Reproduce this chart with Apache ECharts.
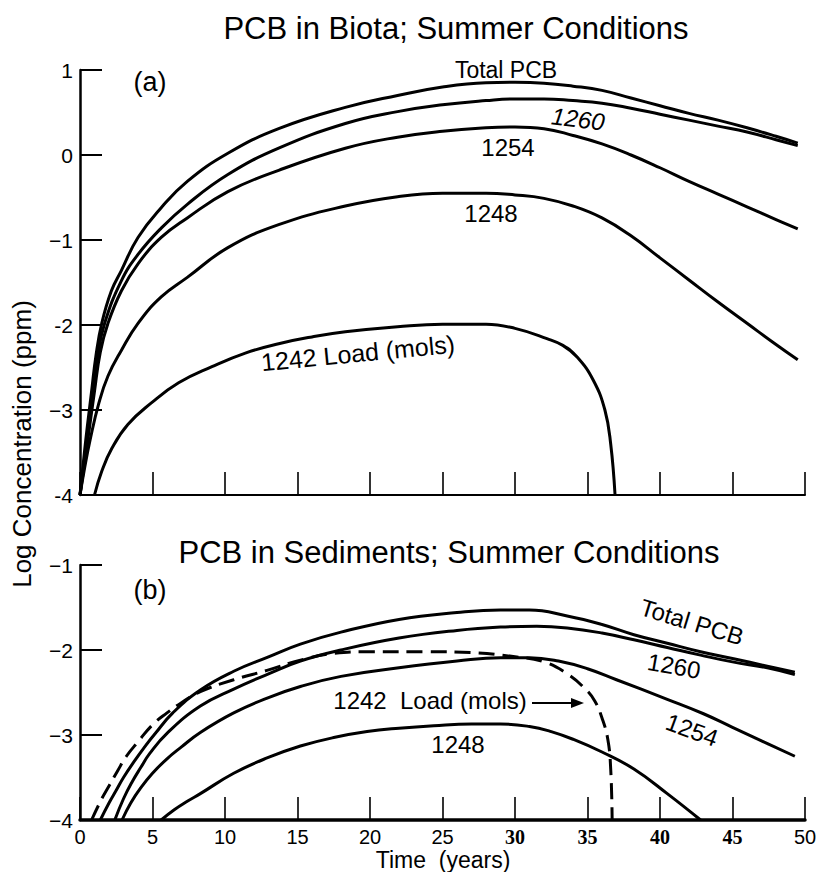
<!DOCTYPE html>
<html><head><meta charset="utf-8">
<script src="https://cdn.jsdelivr.net/npm/echarts@6/dist/echarts.min.js"></script>
<style>html,body{margin:0;padding:0;background:#fff}#c{width:817px;height:872px}</style>
</head><body><div id="c"></div>
<script>
// ---- tick labels ----
const xTickValues = [0, 5, 10, 15, 20, 25, 30, 35, 40, 45, 50];
const boldSerifXLabels = ['30', '35', '40', '45'];
const biotaYTicks = [-4, -3, -2, -1, 0, 1];
const biotaYTickLabels = ['-4', '\u22123', '-2', '\u22121', '0', '1'];
const sedYTicks = [-4, -3, -2, -1];
const sedYTickLabels = ['\u22124', '\u22123', '\u22122', '\u22121'];

// ---- (a) PCB in biota: [year, log concentration] ----
const biotaTotal = [[0,-4],[0.4,-3.35],[0.8,-2.78],[1.1,-2.36],[1.5,-1.98],[2.16,-1.6],[2.85,-1.36],[4,-0.97],[5.6,-0.62],[7.4,-0.31],[10.2,0.02],[13.7,0.31],[18.3,0.56],[21.9,0.7],[25,0.8],[28,0.85],[30,0.855],[32,0.845],[34,0.81],[36,0.76],[38,0.67],[40,0.58],[42,0.49],[44,0.41],[46,0.32],[48,0.22],[49.5,0.14]];
const biota1260 = [[0,-4],[0.4,-3.45],[0.8,-2.88],[1.2,-2.38],[1.7,-1.98],[2.85,-1.48],[4,-1.17],[5.6,-0.86],[7.4,-0.58],[10.2,-0.23],[13.7,0.08],[18.3,0.37],[21.9,0.51],[25,0.59],[28,0.64],[30,0.66],[32,0.66],[34,0.64],[36,0.61],[38,0.55],[40,0.48],[42,0.41],[44,0.34],[46,0.27],[48,0.18],[49.5,0.11]];
const biota1254 = [[0,-4],[0.5,-3.4],[1,-2.78],[1.4,-2.32],[1.93,-1.98],[2.85,-1.6],[4,-1.28],[5.6,-0.97],[7.4,-0.74],[10.2,-0.43],[13.7,-0.18],[18.3,0.08],[21.9,0.21],[25,0.28],[28,0.32],[30,0.33],[32,0.31],[34,0.23],[36,0.13],[38,0.0],[40,-0.15],[42,-0.31],[44,-0.46],[46,-0.61],[48,-0.76],[49.5,-0.87]];
const biota1248 = [[0,-4],[0.3,-3.7],[0.7,-3.35],[1.3,-2.92],[1.93,-2.6],[2.85,-2.3],[4,-1.98],[5.6,-1.67],[7.4,-1.44],[10.2,-1.09],[13.7,-0.82],[18.3,-0.6],[21.9,-0.49],[25,-0.45],[28,-0.45],[30,-0.47],[32,-0.51],[34,-0.6],[36,-0.74],[38,-0.95],[40,-1.21],[42,-1.47],[44,-1.73],[46,-1.98],[48,-2.23],[49.5,-2.41]];
const biotaLoad1242 = [[1,-4],[1.5,-3.72],[2.2,-3.45],[3.3,-3.17],[4.9,-2.92],[6.8,-2.68],[9.1,-2.49],[11.4,-2.33],[13.7,-2.22],[16,-2.14],[18.3,-2.08],[21.9,-2.02],[25,-1.99],[28,-1.99],[30,-2.04],[32.2,-2.16],[33.3,-2.24],[34.3,-2.38],[35.4,-2.65],[36.2,-3.0],[36.6,-3.4],[36.9,-4]];

// ---- (b) PCB in sediments ----
const sedTotal = [[1.4,-4],[2,-3.8],[2.5,-3.65],[3,-3.5],[3.7,-3.32],[4.5,-3.13],[5.2,-2.98],[6.4,-2.74],[8.3,-2.47],[10.6,-2.25],[13,-2.08],[15.2,-1.93],[18,-1.79],[22,-1.64],[26,-1.56],[29,-1.53],[31,-1.53],[33.6,-1.6],[36,-1.7],[38.2,-1.82],[40.5,-1.92],[42.8,-2.02],[45,-2.1],[47.4,-2.19],[49.3,-2.26]];
const sed1260 = [[2.4,-4],[3,-3.75],[3.6,-3.55],[4.2,-3.38],[4.8,-3.22],[6,-2.98],[8.3,-2.66],[10.6,-2.46],[13,-2.28],[15.2,-2.13],[18,-2.0],[22,-1.86],[26,-1.77],[29,-1.73],[31.5,-1.72],[33.6,-1.74],[36,-1.8],[38.2,-1.88],[40.5,-1.97],[42.8,-2.06],[45,-2.14],[47.4,-2.21],[49.3,-2.29]];
const sed1254 = [[2.9,-4],[3.5,-3.8],[4.2,-3.62],[5,-3.45],[6,-3.28],[7,-3.14],[8.3,-2.97],[10.6,-2.74],[13,-2.56],[15.2,-2.43],[18,-2.31],[22,-2.21],[26,-2.13],[29,-2.09],[31,-2.09],[33,-2.13],[35,-2.22],[37,-2.35],[40.5,-2.58],[43,-2.75],[45,-2.91],[47,-3.07],[49.3,-3.25]];
const sed1248 = [[5.6,-4],[6.5,-3.88],[7.4,-3.78],[8.3,-3.69],[10.6,-3.45],[12.9,-3.27],[15.2,-3.13],[17.5,-3.03],[19.8,-2.96],[22,-2.92],[24.4,-2.89],[27,-2.87],[29,-2.87],[31,-2.9],[32.5,-2.96],[34,-3.05],[36,-3.2],[38.2,-3.4],[40.5,-3.69],[42.8,-4]];
const sedLoad1242 = [[0.8,-4],[1.5,-3.75],[2,-3.6],[2.6,-3.42],[3.2,-3.25],[4,-3.08],[5,-2.88],[6,-2.74],[7,-2.62],[8.3,-2.49],[10.6,-2.35],[12.9,-2.24],[15.2,-2.12],[17.5,-2.04],[20,-2.02],[24,-2.02],[27,-2.03],[30,-2.08],[32,-2.14],[33.6,-2.28],[34.8,-2.45],[35.5,-2.6],[36,-2.8],[36.4,-3.05],[36.6,-3.4],[36.7,-4]];

const FONT = 'Liberation Sans, Arial, sans-serif';
const chart = echarts.init(document.getElementById('c'), null, {renderer: 'svg'});

function line(data, xi, dashed) {
  return {
    type: 'line', xAxisIndex: xi, yAxisIndex: xi, data: data,
    showSymbol: false, symbol: 'none', smooth: 0.45,
    clip: true, silent: true,
    lineStyle: {color: '#000', width: 3, type: dashed ? [16, 8] : 'solid', cap: 'butt', join: 'round'}
  };
}
function xAxis(gi, showLabels, axisWidth) {
  return {
    type: 'value', gridIndex: gi, min: 0, max: 50, interval: 5,
    axisLine: {show: true, onZero: false, lineStyle: {color: '#000', width: axisWidth}},
    axisTick: {show: true, inside: true, length: 23, lineStyle: {color: '#000', width: 1.6}},
    splitLine: {show: false},
    axisLabel: {
      show: showLabels, margin: 8, showMinLabel: true, showMaxLabel: true, hideOverlap: false,
      formatter: v => boldSerifXLabels.includes(String(v)) ? '{b|' + v + '}' : '{n|' + v + '}',
      rich: {
        n: {fontFamily: FONT, fontSize: 20, lineHeight: 18, color: '#000'},
        b: {fontFamily: 'Liberation Serif, serif', fontWeight: 'bold', fontSize: 20, lineHeight: 18, color: '#000'}
      }
    }
  };
}
function yAxis(gi, min, max, ticks, labels) {
  return {
    type: 'value', gridIndex: gi, min: min, max: max, interval: 1,
    axisLine: {show: true, onZero: false, lineStyle: {color: '#000', width: 2.5}},
    axisTick: {show: true, inside: true, length: 22, lineStyle: {color: '#000', width: 2}},
    splitLine: {show: false},
    axisLabel: {
      margin: 7, fontFamily: FONT, fontSize: 21, color: '#000', showMinLabel: true, showMaxLabel: true,
      formatter: v => { const i = ticks.indexOf(Math.round(v)); return i >= 0 ? labels[i] : ''; }
    }
  };
}
function txt(s, x, y, size, rot, italic) {
  return {
    type: 'text', x: x, y: y, rotation: rot || 0, silent: true,
    style: {text: s, x: 0, y: 0, fontFamily: FONT, fontSize: size, fill: '#000',
            fontStyle: italic ? 'italic' : 'normal',
            align: 'center', verticalAlign: 'middle', textAlign: 'center', textVerticalAlign: 'middle'}
  };
}
const deg = Math.PI / 180;

chart.setOption({
  backgroundColor: '#fff',
  animation: false,
  grid: [
    {left: 80, top: 70, width: 725, height: 425, outerBoundsMode: 'none', containLabel: false},
    {left: 80, top: 565, width: 725, height: 255, outerBoundsMode: 'none', containLabel: false}
  ],
  xAxis: [xAxis(0, false, 2), xAxis(1, true, 3.5)],
  yAxis: [yAxis(0, -4, 1, biotaYTicks, biotaYTickLabels), yAxis(1, -4, -1, sedYTicks, sedYTickLabels)],
  series: [
    line(biotaTotal, 0), line(biota1260, 0), line(biota1254, 0), line(biota1248, 0), line(biotaLoad1242, 0),
    line(sedTotal, 1), line(sed1260, 1), line(sed1254, 1), line(sed1248, 1), line(sedLoad1242, 1, true)
  ],
  graphic: [
    txt('PCB in Biota; Summer Conditions', 456, 28, 31),
    txt('PCB in Sediments; Summer Conditions', 449, 552, 31),
    txt('(a)', 150, 82, 27),
    txt('(b)', 150, 590, 27),
    txt('Log Concentration (ppm)', 22, 444, 26, 90 * deg),
    txt('Time  (years)', 443, 860, 23),
    txt('Total PCB', 506, 70, 23),
    txt('1260', 578, 119, 24, -7 * deg, true),
    txt('1254', 508, 147, 24),
    txt('1248', 491, 213, 24),
    txt('1242 Load (mols)', 358, 353, 25, 5.5 * deg),
    txt('Total PCB', 692, 622, 24, -17 * deg),
    txt('1260', 674, 666, 24, -10 * deg),
    txt('1254', 692, 730, 24, -20 * deg),
    txt('1248', 458, 744, 24),
    txt('1242  Load (mols)', 430, 700, 24),
    {type: 'line', silent: true, shape: {x1: 532, y1: 703, x2: 574, y2: 703}, style: {stroke: '#000', lineWidth: 2}},
    {type: 'polygon', silent: true, shape: {points: [[584, 703], [571, 698], [571, 708]]}, style: {fill: '#000'}}
  ]
});
</script></body></html>
